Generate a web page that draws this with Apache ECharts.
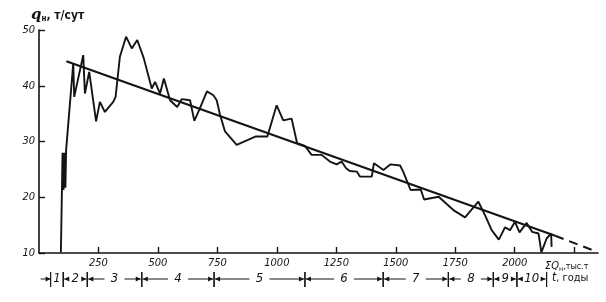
<!DOCTYPE html>
<html><head><meta charset="utf-8">
<script src="https://cdn.jsdelivr.net/npm/echarts@6/dist/echarts.min.js"></script>
<style>html,body{margin:0;padding:0;background:#fff}#c{width:606px;height:302px}</style>
</head><body><div id="c"></div>
<script>
// cumulative production (thousand t) vs. oil rate (t/day)
const cumulativeQ = [92,99,103,107,111,114,144,148,186,193,211,240,256,277,312,322,340,366,390,413,440,474,488,509,525,551,581,600,635,653,674,706,733,747,761,782,831,912,960,999,1027,1062,1085,1118,1146,1188,1223,1251,1272,1291,1307,1336,1349,1399,1408,1448,1478,1518,1531,1562,1605,1619,1680,1742,1791,1847,1875,1903,1933,1959,1980,2001,2020,2050,2073,2100,2112,2134,2153,2155];
const oilRate     = [10.1,28,21.3,28,21.7,28.5,44.0,38.0,45.5,38.6,42.5,33.6,37.1,35.3,37.1,38.0,45.2,48.8,46.7,48.2,45.0,39.5,40.7,38.6,41.3,37.4,36.2,37.6,37.4,33.7,35.7,39.0,38.3,37.4,34.8,31.8,29.4,30.9,30.9,36.5,33.8,34.1,29.7,29.2,27.6,27.6,26.4,25.9,26.4,25.2,24.7,24.6,23.7,23.7,26.1,24.9,25.9,25.7,24.6,21.3,21.4,19.6,20.1,17.7,16.4,19.2,16.8,14.1,12.4,14.6,14.1,15.6,13.7,15.4,13.8,13.5,10.1,12.6,13.5,11.1];
const trendSolidQ = [115, 2170];
const trendSolidRate = [44.4, 13.1];
const trendDashQ = [2170, 2346];
const trendDashRate = [13.1, 10.2];
const xTickLabels = [250,500,750,1000,1250,1500,1750,2000];
const yTickLabels = [10,20,30,40,50];
const periodBounds = [49,102,203,432,736,1118,1447,1721,1910,2009,2134];
const periodNames = ['1','2','3','4','5','6','7','8','9','10'];

const FONT = "'DejaVu Sans Condensed','Liberation Sans Narrow','DejaVu Sans',sans-serif";
const INK = '#141414';
const zip = (a, b) => a.map((v, i) => [v, b[i]]);
const periodData = periodNames.map((n, i) => [periodBounds[i], periodBounds[i + 1], 10, n]);

function arrow(xb, y, dir) { // dir: +1 points right, -1 points left
  return { type: 'polygon', shape: { points: [[xb, y], [xb - dir * 5, y - 2.5], [xb - dir * 5, y + 2.5]] }, style: { fill: INK } };
}

const chart = echarts.init(document.getElementById('c'), null, { renderer: 'canvas' });
chart.setOption({
  animation: false,
  backgroundColor: '#fff',
  title: {
    text: '{q|q}{s|н}{t|, т/сут}', left: 26, top: 3,
    textStyle: { rich: {
      q: { fontSize: 15, fontStyle: 'italic', fontFamily: 'DejaVu Serif', color: INK },
      s: { fontSize: 8, fontFamily: FONT, color: INK, verticalAlign: 'bottom', padding: [6, 0, 0, 0] },
      t: { fontSize: 12, fontFamily: FONT, color: INK }
    } }
  },
  grid: { left: 39, right: 8, top: 30, bottom: 49 },
  xAxis: {
    type: 'value', min: 0, max: 2350, interval: 250,
    axisLine: { lineStyle: { color: INK, width: 1.6 } },
    axisTick: { inside: true, length: 6, lineStyle: { color: INK, width: 1.4 } },
    splitLine: { show: false },
    axisLabel: {
      showMinLabel: false, showMaxLabel: false, margin: 5,
      fontSize: 11, fontStyle: 'italic', fontFamily: FONT, color: INK,
      formatter: v => xTickLabels.includes(v) ? String(v) : ''
    }
  },
  yAxis: {
    type: 'value', min: 10, max: 50, interval: 10,
    axisLine: { lineStyle: { color: INK, width: 1.6 } },
    axisTick: { inside: true, length: 6, lineStyle: { color: INK, width: 1.4 } },
    splitLine: { show: false },
    axisLabel: {
      margin: 4, fontSize: 11, fontStyle: 'italic', fontFamily: FONT, color: INK,
      formatter: v => yTickLabels.includes(v) ? String(v) : ''
    }
  },
  graphic: [
    { type: 'text', left: 545, top: 261, style: {
      text: '{a|ΣQ}{s|н}{b|,тыс.т}', fill: INK,
      rich: {
        a: { fontSize: 11, fontStyle: 'italic', fontFamily: FONT, fill: INK },
        s: { fontSize: 7, fontFamily: FONT, fill: INK, padding: [5, 0, 0, 0] },
        b: { fontSize: 9, fontFamily: FONT, fill: INK }
      } } },
    { type: 'text', left: 552, top: 272, style: {
      text: '{a|t}{b|, годы}', fill: INK,
      rich: {
        a: { fontSize: 12, fontStyle: 'italic', fontFamily: FONT, fill: INK },
        b: { fontSize: 11, fontFamily: FONT, fill: INK }
      } } }
  ],
  series: [
    {
      type: 'line', data: zip(cumulativeQ, oilRate), symbol: 'none', clip: false,
      lineStyle: { color: INK, width: 1.9 }, z: 3
    },
    {
      type: 'line', data: zip(trendSolidQ, trendSolidRate), symbol: 'none',
      lineStyle: { color: INK, width: 2.2 }, z: 4
    },
    {
      type: 'line', data: zip(trendDashQ, trendDashRate), symbol: 'none', clip: false,
      lineStyle: { color: INK, width: 2, type: [9, 6] }, z: 4
    },
    {
      type: 'custom', coordinateSystem: 'cartesian2d', clip: false, silent: true,
      encode: { x: [0, 1], y: 2 },
      data: periodData,
      renderItem: function (params, api) {
        const x0 = api.coord([api.value(0), 10])[0];
        const x1 = api.coord([api.value(1), 10])[0];
        const y = 279;
        const label = periodNames[params.dataIndex];
        const mid = (x0 + x1) / 2;
        const half = label.length > 1 ? 7 : 4;
        const ch = [
          { type: 'line', shape: { x1: x0, y1: y - 7, x2: x0, y2: y + 8 }, style: { stroke: INK, lineWidth: 1.2 } },
          { type: 'line', shape: { x1: x1, y1: y - 7, x2: x1, y2: y + 8 }, style: { stroke: INK, lineWidth: 1.2 } },
          { type: 'text', style: { text: label, x: mid, y: y, align: 'center', verticalAlign: 'middle',
            font: 'italic 13px ' + FONT, fill: INK } }
        ];
        const w = x1 - x0;
        if (w > 20) {
          const gap = w > 40 ? 6 : 3;
          ch.push({ type: 'line', shape: { x1: x0 + 1, y1: y, x2: mid - half - gap, y2: y }, style: { stroke: INK, lineWidth: 1 } });
          ch.push({ type: 'line', shape: { x1: mid + half + gap, y1: y, x2: x1 - 1, y2: y }, style: { stroke: INK, lineWidth: 1 } });
          ch.push(arrow(x0 + 1, y, -1));
          ch.push(arrow(x1 - 1, y, 1));
        } else if (params.dataIndex === 0) {
          ch.push({ type: 'line', shape: { x1: x0 - 10, y1: y, x2: x0, y2: y }, style: { stroke: INK, lineWidth: 1 } });
          ch.push(arrow(x0, y, 1));
        }
        return { type: 'group', children: ch };
      }
    }
  ]
});
</script></body></html>
